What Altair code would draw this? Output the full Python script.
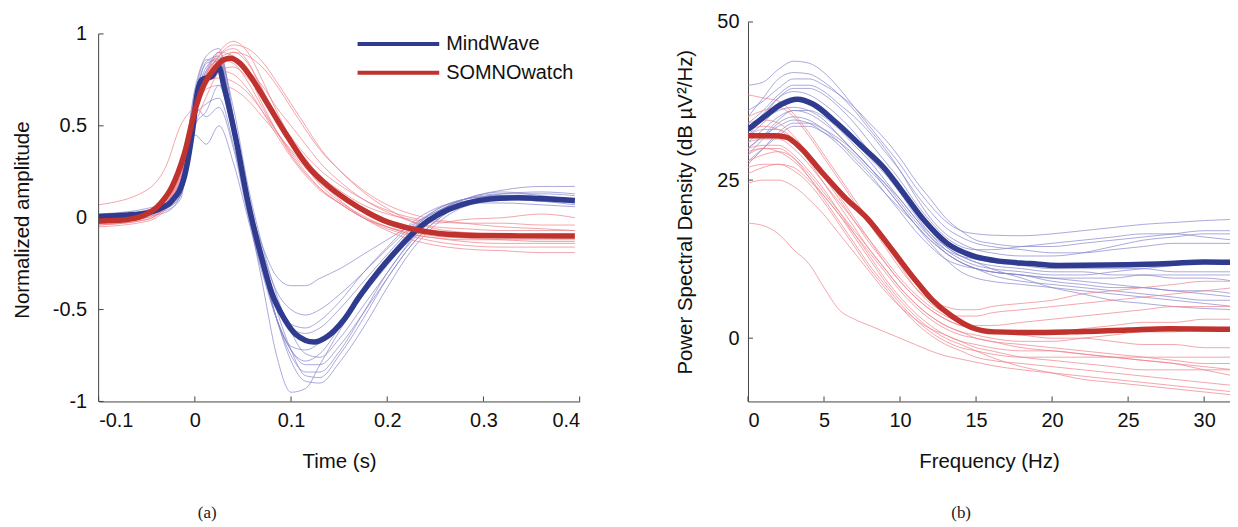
import altair as alt
import pandas as pd

# ---------------- Panel (a): time domain ----------------
time_grid = [-0.1, -0.05, -0.03, -0.015, 0, 0.012, 0.025, 0.04, 0.055, 0.07, 0.085, 0.1,
             0.115, 0.13, 0.15, 0.175, 0.2, 0.225, 0.25, 0.28, 0.32, 0.36, 0.395]

mw_subjects_a = {
    "B1": [0.0, 0.02, 0.05, 0.12, 0.62, 0.85, 0.88, 0.5, 0.05, -0.35, -0.75, -0.95, -0.93, -0.8, -0.62, -0.42, -0.25, -0.1, 0.02, 0.1, 0.13, 0.13, 0.12],
    "B2": [-0.02, 0.02, 0.05, 0.15, 0.5, 0.58, 0.72, 0.45, 0.1, -0.15, -0.32, -0.37, -0.37, -0.33, -0.28, -0.2, -0.12, -0.04, 0.03, 0.1, 0.14, 0.12, 0.1],
    "B3": [0.0, 0.01, 0.03, 0.12, 0.45, 0.4, 0.5, 0.3, 0.0, -0.3, -0.55, -0.72, -0.78, -0.74, -0.6, -0.4, -0.22, -0.07, 0.04, 0.1, 0.12, 0.11, 0.1],
    "B4": [0.01, 0.04, 0.07, 0.2, 0.7, 0.88, 0.92, 0.55, 0.12, -0.2, -0.5, -0.72, -0.86, -0.87, -0.75, -0.55, -0.33, -0.15, -0.02, 0.08, 0.13, 0.14, 0.13],
    "B5": [0.0, 0.03, 0.06, 0.15, 0.65, 0.8, 0.85, 0.52, 0.12, -0.18, -0.4, -0.5, -0.53, -0.5, -0.42, -0.3, -0.17, -0.05, 0.04, 0.1, 0.12, 0.11, 0.1],
    "B6": [-0.01, 0.02, 0.04, 0.1, 0.55, 0.62, 0.65, 0.4, 0.05, -0.25, -0.55, -0.72, -0.8, -0.8, -0.7, -0.52, -0.33, -0.15, -0.02, 0.07, 0.1, 0.1, 0.09],
    "B7": [0.02, 0.05, 0.09, 0.2, 0.62, 0.8, 0.9, 0.55, 0.1, -0.25, -0.55, -0.75, -0.84, -0.84, -0.73, -0.52, -0.3, -0.13, 0.0, 0.07, 0.1, 0.1, 0.08],
    "B8": [0.0, 0.03, 0.06, 0.14, 0.6, 0.78, 0.8, 0.45, 0.05, -0.25, -0.48, -0.6, -0.63, -0.6, -0.5, -0.35, -0.2, -0.06, 0.03, 0.08, 0.08, 0.07, 0.06],
    "B9": [0.01, 0.03, 0.05, 0.12, 0.62, 0.82, 0.87, 0.6, 0.18, -0.15, -0.42, -0.62, -0.74, -0.76, -0.66, -0.48, -0.3, -0.12, 0.02, 0.1, 0.15, 0.17, 0.17],
    "B10": [0.0, 0.02, 0.05, 0.16, 0.6, 0.55, 0.6, 0.38, 0.02, -0.28, -0.55, -0.7, -0.72, -0.68, -0.58, -0.42, -0.26, -0.1, 0.02, 0.08, 0.1, 0.09, 0.08],
    "B11": [0.0, 0.03, 0.07, 0.18, 0.66, 0.84, 0.86, 0.5, 0.08, -0.25, -0.55, -0.78, -0.89, -0.9, -0.79, -0.6, -0.38, -0.18, -0.04, 0.06, 0.1, 0.1, 0.09],
    "B12": [0.01, 0.04, 0.08, 0.2, 0.68, 0.86, 0.84, 0.46, 0.06, -0.22, -0.45, -0.58, -0.6, -0.56, -0.46, -0.3, -0.16, -0.03, 0.05, 0.09, 0.1, 0.09, 0.07],
}

sw_subjects_a = {
    "R1": [0.07, 0.15, 0.28, 0.5, 0.62, 0.78, 0.8, 0.78, 0.7, 0.58, 0.45, 0.33, 0.23, 0.15, 0.08, 0.0, -0.05, -0.09, -0.11, -0.13, -0.14, -0.14, -0.14],
    "R2": [-0.03, 0.0, 0.06, 0.22, 0.5, 0.66, 0.8, 0.9, 0.88, 0.82, 0.72, 0.6, 0.48, 0.37, 0.26, 0.15, 0.07, 0.02, -0.01, -0.03, -0.05, -0.06, -0.07],
    "R3": [-0.04, -0.01, 0.06, 0.24, 0.56, 0.78, 0.9, 0.96, 0.9, 0.75, 0.58, 0.43, 0.3, 0.2, 0.1, 0.0, -0.07, -0.12, -0.15, -0.17, -0.18, -0.19, -0.19],
    "R4": [-0.02, 0.02, 0.1, 0.3, 0.62, 0.74, 0.76, 0.74, 0.68, 0.58, 0.47, 0.36, 0.27, 0.19, 0.11, 0.03, -0.03, -0.06, -0.08, -0.09, -0.1, -0.1, -0.1],
    "R5": [-0.05, -0.02, 0.05, 0.22, 0.55, 0.75, 0.88, 0.92, 0.85, 0.7, 0.55, 0.42, 0.32, 0.23, 0.15, 0.07, 0.02, -0.01, -0.03, -0.01, 0.0, 0.02, 0.0],
    "R6": [-0.01, 0.03, 0.12, 0.3, 0.6, 0.78, 0.86, 0.84, 0.74, 0.6, 0.47, 0.35, 0.25, 0.16, 0.08, 0.0, -0.06, -0.1, -0.13, -0.15, -0.16, -0.16, -0.16],
    "R7": [-0.03, 0.01, 0.08, 0.26, 0.57, 0.72, 0.82, 0.86, 0.8, 0.72, 0.6, 0.5, 0.4, 0.3, 0.2, 0.1, 0.03, -0.02, -0.05, -0.06, -0.07, -0.07, -0.07],
    "R8": [-0.02, 0.01, 0.09, 0.28, 0.6, 0.76, 0.86, 0.9, 0.84, 0.7, 0.55, 0.4, 0.28, 0.18, 0.09, 0.01, -0.05, -0.09, -0.11, -0.12, -0.12, -0.12, -0.12],
    "R9": [0.0, 0.04, 0.12, 0.3, 0.58, 0.7, 0.72, 0.7, 0.64, 0.55, 0.46, 0.37, 0.28, 0.2, 0.12, 0.04, -0.02, -0.06, -0.09, -0.11, -0.12, -0.13, -0.13],
    "R10": [-0.04, -0.01, 0.07, 0.24, 0.54, 0.76, 0.88, 0.94, 0.92, 0.85, 0.74, 0.62, 0.5, 0.38, 0.26, 0.14, 0.05, -0.02, -0.06, -0.08, -0.09, -0.09, -0.09],
    "R11": [-0.03, 0.0, 0.07, 0.25, 0.58, 0.78, 0.9, 0.88, 0.78, 0.62, 0.47, 0.34, 0.24, 0.16, 0.08, 0.0, -0.05, -0.08, -0.1, -0.11, -0.11, -0.11, -0.11],
    "R12": [-0.02, 0.02, 0.1, 0.28, 0.6, 0.74, 0.8, 0.82, 0.76, 0.66, 0.55, 0.44, 0.34, 0.26, 0.18, 0.1, 0.04, 0.0, -0.02, -0.03, -0.03, -0.04, -0.04],
}

mw_mean_t = [-0.1, -0.07, -0.05, -0.036, -0.024, -0.011, -0.003, 0.003, 0.007, 0.018, 0.025, 0.03,
             0.043, 0.055, 0.068, 0.08, 0.093, 0.105, 0.124, 0.138, 0.155, 0.171, 0.192, 0.213,
             0.234, 0.254, 0.275, 0.296, 0.317, 0.337, 0.358, 0.395]
mw_mean_a = [0.007, 0.015, 0.025, 0.05, 0.09, 0.22, 0.45, 0.69, 0.75, 0.77, 0.82, 0.72,
             0.42, 0.09, -0.19, -0.41, -0.55, -0.635, -0.677, -0.645, -0.555, -0.43, -0.285, -0.16,
             -0.05, 0.02, 0.067, 0.094, 0.106, 0.108, 0.104, 0.094]

sw_mean_t = [-0.1, -0.078, -0.057, -0.036, -0.024, -0.011, 0.001, 0.01, 0.018, 0.03, 0.037, 0.047,
             0.059, 0.076, 0.097, 0.117, 0.138, 0.159, 0.18, 0.2, 0.225, 0.254, 0.296, 0.337, 0.395]
sw_mean_a = [-0.018, -0.014, 0.004, 0.076, 0.166, 0.346, 0.6, 0.73, 0.795, 0.86, 0.868, 0.84,
             0.76, 0.616, 0.436, 0.283, 0.175, 0.094, 0.027, -0.023, -0.06, -0.086, -0.097, -0.099, -0.1]

time_ticks = [-0.1, 0, 0.1, 0.2, 0.3, 0.4]
amp_ticks = [-1, -0.5, 0, 0.5, 1]

# ---------------- Panel (b): frequency domain ----------------
freq_grid = [0, 1, 2, 3, 4, 5, 6, 7, 8, 9, 10, 11, 12, 13, 14, 15, 16, 18, 20, 22, 24, 26, 28, 30, 32]

mw_subjects_b = {
    "PB1": [40, 40.5, 42.5, 43.8, 43.5, 42, 39.5, 36.5, 33.5, 30.5, 27.5, 24, 21, 18.5, 17, 16.5, 16.3, 16.2, 16.5, 17, 17.5, 18, 18.3, 18.6, 18.8],
    "PB2": [35, 38, 41, 42, 41.8, 40.5, 38.5, 36, 33, 30, 26.5, 22.5, 19, 16.5, 15, 14, 13.5, 13, 13, 13.5, 14.5, 15.5, 16, 16.5, 16.5],
    "PB3": [32, 35, 38, 39.5, 39.5, 38.5, 36.5, 34, 31, 28, 25, 21.5, 18.5, 16, 14.5, 14, 14, 14.5, 15, 15.5, 16, 16.5, 16.5, 16, 15.5],
    "PB4": [30, 32, 34.5, 36, 36, 35, 33, 30.5, 28, 25, 22, 19, 16, 13.5, 12, 11, 10.5, 10, 9.5, 9, 8.5, 8, 7.5, 7, 6.5],
    "PB5": [28, 30, 32, 33.5, 33.5, 32.5, 31, 29, 26.5, 24, 21, 18, 15, 12.5, 10.5, 9.5, 9, 8.5, 8, 7.5, 7, 6.5, 6, 5.5, 5],
    "PB6": [33, 35.5, 38, 39, 38.5, 37, 35, 32.5, 29.5, 26.5, 23, 19.5, 16.5, 14, 12.5, 11.5, 11, 10.5, 10, 10, 10.5, 11, 11.5, 12, 12],
    "PB7": [29, 31.5, 34, 35, 34.5, 33, 31, 28.5, 26, 23, 20, 17, 14.5, 12.5, 11.5, 11, 10.5, 10, 9, 8.5, 8, 8, 7.5, 7.5, 7],
    "PB8": [34, 36, 38.5, 40, 40, 39, 37, 35, 32.5, 29.5, 26.5, 23, 20, 17.5, 16, 15, 14.5, 14, 13.5, 13.5, 14, 14.5, 15, 15, 15],
    "PB9": [31, 33, 35, 36, 35.5, 34, 32, 29.5, 27, 24, 21, 18, 15.5, 13.5, 12, 11, 10, 9, 8.5, 8, 7.5, 7, 6.5, 6, 6],
    "PB10": [32, 34, 36.5, 37.5, 37, 35.5, 33.5, 31, 28.5, 26, 23, 20, 17, 14.5, 13, 12, 11.5, 11, 10.5, 10.5, 10, 10, 9.5, 9.5, 9],
    "PB11": [30, 32, 33.5, 34.5, 34, 32.5, 30.5, 28, 25.5, 23, 20.5, 18, 15.5, 13.5, 12, 11, 10.5, 10, 9.5, 9.5, 9.5, 10, 10, 10, 10],
    "PB12": [27.5, 30, 32.5, 34, 34, 33, 31.5, 29.5, 27, 24.5, 22, 19, 16.5, 14.5, 13, 12, 11, 9.5, 8, 7, 6, 5.5, 5, 4.7, 4.5],
    "PB13": [36, 37.5, 39.5, 41, 41, 40, 38.5, 36.5, 34, 31.5, 28.5, 25, 22, 19, 17, 15.5, 15, 14.5, 14.5, 15, 15.5, 16, 16.5, 17, 17],
    "PB14": [33, 34.5, 36, 36.5, 36, 34.5, 32, 29.5, 27, 24.5, 21.5, 18.5, 16, 14, 13, 12.5, 12, 11.5, 11, 11, 11, 11, 10.5, 10.5, 10.5],
}

sw_subjects_b = {
    "PR1": [18.2, 17.8, 16.5, 14, 11.8, 8, 4.5, 3, 2, 1, 0, -1, -2, -2.8, -3.3, -3.8, -4.3, -5, -5.5, -6, -6.5, -7, -7.5, -8, -8.5],
    "PR2": [38.5, 38, 37.5, 35.5, 32.5, 29, 25.5, 22, 18.5, 15, 11.5, 8, 5.5, 4, 3.5, 3.5, 4, 4.5, 5, 5.5, 6, 6.5, 7, 7.5, 8],
    "PR3": [35, 36, 36.5, 35, 32, 28.5, 25, 21.5, 18, 14.5, 11, 8, 6, 5, 4.5, 4.5, 5, 5.5, 6, 7, 7.5, 8, 8.5, 9, 9],
    "PR4": [33, 33.5, 33, 31, 28, 24.5, 21, 17.5, 14, 11, 8, 5.5, 3.5, 2, 1, 0, -0.5, -1, -1.5, -2, -2.5, -3, -3.5, -4, -4],
    "PR5": [30, 30.5, 30.5, 29, 26.5, 23.5, 20, 16.5, 13, 9.5, 6.5, 4, 2, 0.5, -0.5, -1, -1.5, -2, -2, -2.5, -3, -3.5, -4, -5, -6],
    "PR6": [28, 29, 29.5, 28.5, 26, 23, 20, 17, 14, 11, 8, 5.5, 3.5, 2, 1, 0.5, 0, -0.5, -0.5, 0, 0.5, 1, 1, 1.5, 1.5],
    "PR7": [27, 27.5, 27.5, 26.5, 24.5, 21.5, 18, 14.5, 11, 8, 5, 2.5, 0.5, -1, -2, -3, -3.5, -4, -4.5, -5, -5.5, -6, -6.5, -7, -7.5],
    "PR8": [31, 31.5, 31.5, 30, 27.5, 24.5, 21.5, 18.5, 15.5, 12.5, 9.5, 7, 5, 3.5, 2.5, 2, 2, 2.5, 3, 3.5, 4, 4.5, 5, 5, 5],
    "PR9": [29, 30, 30, 28.5, 25.5, 22, 18.5, 15, 11.5, 8.5, 5.5, 3, 1, -0.5, -1.5, -2, -2.5, -3, -3, -3, -3, -3, -3, -3, -3],
    "PR10": [24.5, 25, 25, 24, 22, 19.5, 16.5, 13.5, 10.5, 7.5, 5, 3, 1.5, 0.5, -0.5, -1.5, -2, -3, -3.5, -4, -4.5, -5, -5, -5, -5],
    "PR11": [32, 33, 33, 31.5, 29, 26, 22.5, 19, 15.5, 12, 9, 6.5, 4.5, 3, 2, 1.5, 1, 1, 1, 1.5, 2, 2.5, 2.5, 3, 3],
    "PR12": [26, 27, 27.5, 27, 25, 22.5, 19.5, 16, 12.5, 9, 6, 3.5, 1.5, 0, -1, -2, -3, -4.5, -5.5, -6.5, -7, -7.5, -8, -8.5, -9],
    "PR13": [34, 34.5, 34, 32, 29, 25.5, 22, 18.5, 15, 12, 9, 6.5, 4.5, 3, 2, 1.5, 1, 0.5, 0, 0, -0.5, -1, -1, -1.5, -1.5],
    "PR14": [29.5, 30, 29.5, 28, 25.5, 22.5, 19.5, 16.5, 13.5, 10.5, 7.5, 5, 3, 1.5, 0.5, 0, -0.5, -1.5, -2, -2.5, -3, -3.5, -4, -4.5, -5],
}

mw_mean_f = [0, 1.17, 2.2, 3.25, 4.3, 5.8, 7.4, 9, 10, 11.6, 13.1, 14.7, 16.2, 18.6, 20.4, 25, 27.7, 30, 32]
mw_mean_b = [33.0, 35.2, 37.0, 37.8, 37.0, 34.1, 30.5, 26.8, 23.7, 18.6, 15.0, 13.1, 12.3, 11.8, 11.5, 11.6, 11.8, 12.06, 12.0]

sw_mean_f = [0, 1.7, 2.5, 3.5, 4.8, 6.4, 7.9, 9.5, 11, 12.1, 13.4, 14.7, 16.2, 18.6, 21.2, 25, 27.7, 32]
sw_mean_b = [32.0, 32.0, 31.8, 30.0, 26.4, 22.2, 18.8, 13.9, 9.2, 6.1, 3.5, 1.7, 1.0, 0.9, 1.0, 1.3, 1.5, 1.4]

freq_ticks = [0, 5, 10, 15, 20, 25, 30]
psd_ticks = [0, 25, 50]

device_names = ["MindWave", "SOMNOwatch"]
panel_labels = ["(a)", "(b)"]

# ---------------- styling ----------------
MEAN_BLUE = "#2f3b8f"
MEAN_RED = "#c0322d"
THIN_BLUE = "#8484cc"
THIN_RED = "#ee7f89"
FONT = "Liberation Sans"
AXIS_COLOR = "#444444"
W_A, W_B, H = 483, 484, 381


def long_df(xs, series):
    rows = []
    for name, ys in series.items():
        for x, y in zip(xs, ys):
            rows.append({"x": x, "y": y, "id": name})
    return pd.DataFrame(rows)


def mean_df(xs, ys):
    return pd.DataFrame({"x": xs, "y": ys})


def panel(X, Y, thin_b, thin_r, mean_b, mean_r, xticks, yticks, y_axis_line, label, label_x,
          legend=False):
    layers = []
    layers.append(alt.Chart(thin_b).mark_line(strokeWidth=1, opacity=0.7, interpolate="monotone",
                                              clip=True)
                  .encode(x=X, y=Y, detail="id:N", color=alt.value(THIN_BLUE)))
    layers.append(alt.Chart(thin_r).mark_line(strokeWidth=1, opacity=0.7, interpolate="monotone",
                                              clip=True)
                  .encode(x=X, y=Y, detail="id:N", color=alt.value(THIN_RED)))
    layers.append(alt.Chart(mean_b).mark_line(strokeWidth=5.5, interpolate="monotone", clip=True)
                  .encode(x=X, y=Y, color=alt.value(MEAN_BLUE)))
    layers.append(alt.Chart(mean_r).mark_line(strokeWidth=5.5, interpolate="monotone", clip=True)
                  .encode(x=X, y=Y, color=alt.value(MEAN_RED)))
    # inward ticks
    layers.append(alt.Chart(pd.DataFrame({"x": xticks})).mark_rule(color=AXIS_COLOR, strokeWidth=1)
                  .encode(x=X, y=alt.value(H), y2=alt.value(H - 5)))
    layers.append(alt.Chart(pd.DataFrame({"y": yticks})).mark_rule(color=AXIS_COLOR, strokeWidth=1)
                  .encode(y=Y, x=alt.value(0), x2=alt.value(5)))
    if y_axis_line is not None:
        layers.append(alt.Chart(pd.DataFrame({"x": [y_axis_line[0]], "y": [y_axis_line[1]],
                                              "y2": [y_axis_line[2]]}))
                      .mark_rule(color=AXIS_COLOR, strokeWidth=1)
                      .encode(x=X, y=Y, y2="y2:Q"))
    layers.append(alt.Chart(pd.DataFrame({"x": [0]})).mark_text(
        font="Liberation Serif", fontSize=17, color="#222222", baseline="middle", align="center")
        .encode(x=alt.value(label_x), y=alt.value(493), text=alt.value(label)))
    if legend:
        for i, (name, col) in enumerate(zip(device_names, [MEAN_BLUE, MEAN_RED])):
            yy = 22 + 29 * i
            layers.append(alt.Chart(pd.DataFrame({"x": [0]})).mark_rule(strokeWidth=4, color=col)
                          .encode(x=alt.value(260), x2=alt.value(342), y=alt.value(yy)))
            layers.append(alt.Chart(pd.DataFrame({"x": [0]})).mark_text(
                font=FONT, fontSize=20, color="#111111", align="left", baseline="middle")
                .encode(x=alt.value(349), y=alt.value(yy), text=alt.value(name)))
    return alt.layer(*layers)


label_expr = "'' + datum.value"
AX = dict(labelFont=FONT, titleFont=FONT, labelFontSize=20, titleFontSize=20.5,
          labelColor="#111111", titleColor="#111111", titleFontWeight="normal",
          domainColor=AXIS_COLOR, domainWidth=1, grid=False, ticks=False,
          labelExpr=label_expr, titleBaseline="middle")

Xa = alt.X("x:Q", scale=alt.Scale(domain=[-0.1, 0.4], nice=False, zero=False),
           axis=alt.Axis(values=time_ticks, title="Time (s)", labelPadding=9, titleY=60, **AX))
Ya = alt.Y("y:Q", scale=alt.Scale(domain=[-1, 1.065], nice=False, zero=False),
           axis=alt.Axis(values=amp_ticks, title="Normalized amplitude", domain=False,
                         labelPadding=12, titleX=-76, titleY=H * 1.065 / 2.065 + 2, **AX))

Xb = alt.X("x:Q", scale=alt.Scale(domain=[0, 31.7], nice=False, zero=False),
           axis=alt.Axis(values=freq_ticks, title="Frequency (Hz)", labelPadding=9, titleY=60,
                         **AX))
Yb = alt.Y("y:Q", scale=alt.Scale(domain=[-10, 50], nice=False, zero=False),
           axis=alt.Axis(values=psd_ticks, title="Power Spectral Density (dB \u00b5V\u00b2/Hz)",
                         labelPadding=9, titleX=-63, **AX))

left = panel(Xa, Ya, long_df(time_grid, mw_subjects_a), long_df(time_grid, sw_subjects_a),
             mean_df(mw_mean_t, mw_mean_a), mean_df(sw_mean_t, sw_mean_a),
             time_ticks, amp_ticks, (-0.1, -1, 1), panel_labels[0], 109, legend=True
             ).properties(width=W_A, height=H)

right = panel(Xb, Yb, long_df(freq_grid, mw_subjects_b), long_df(freq_grid, sw_subjects_b),
              mean_df(mw_mean_f, mw_mean_b), mean_df(sw_mean_f, sw_mean_b),
              freq_ticks, psd_ticks, None, panel_labels[1], 214
              ).properties(width=W_B, height=H)

chart = alt.hconcat(left, right, spacing=95).properties(
    padding={"left": 5, "top": 3, "right": 0, "bottom": 0},
    background="white"
).configure_view(stroke=None)

chart.save("out.html", embed_options={"renderer": "svg", "actions": False})
